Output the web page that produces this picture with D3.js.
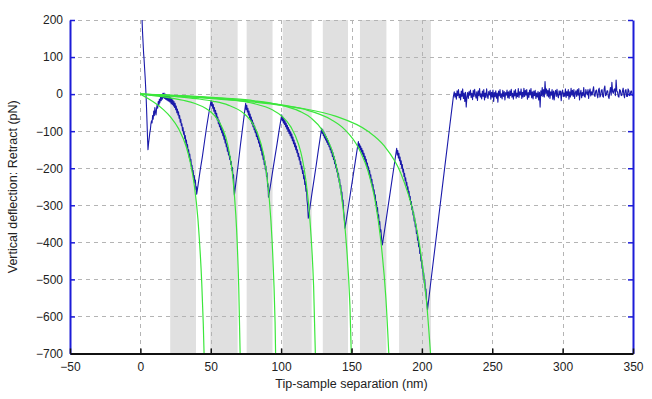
<!DOCTYPE html>
<html>
<head>
<meta charset="utf-8">
<script src="https://cdn.jsdelivr.net/npm/d3@7"></script>
<style>
  html, body { margin: 0; padding: 0; background: #fff; }
  svg { display: block; font-family: "Liberation Sans", Arial, sans-serif; }
</style>
</head>
<body>
<svg id="chart" width="652" height="399"></svg>
<script>
// ---------- data ----------
const xTicks = [-50, 0, 50, 100, 150, 200, 250, 300, 350];
const yTicks = [200, 100, 0, -100, -200, -300, -400, -500, -600, -700];
const xLabel = "Tip-sample separation (nm)";
const yLabel = "Vertical deflection: Retract (pN)";

// shaded regions [start nm, end nm]
const shadedRegions = [
  [21.2, 39.5], [49.7, 69.1], [75.5, 93.9], [101.1, 121.7],
  [129.6, 147.5], [156.0, 174.8], [183.8, 206.4]
];

// retract curve [separation nm, force pN]
const retractCurve = [
  [1.2,200],[1.5,170],[1.9,140],[2.3,110],[2.6,95],[3.0,70],[3.4,45],[3.8,15],[4.1,-10],[4.4,-40],[4.8,-85],[5.1,-120],[5.4,-150],
  [5.9,-130],[6.3,-118],[6.7,-104],[7.1,-96],[7.5,-80],[7.9,-72],[8.3,-78],[8.7,-58],[9.1,-68],[9.5,-46],[9.9,-58],[10.3,-36],[10.7,-48],[11.1,-56],[11.5,-40],[11.9,-28],[12.3,-38],[12.7,-20],[13.1,-30],[13.5,-14],[13.8,-24],
  [14.0,-20],[14.4,-6],[14.8,-18],[15.2,-2],[15.6,-14],[16.0,2],[16.4,-10],[16.8,3],[17.2,-12],[17.6,0],[17.9,-14],[18.3,-2],[18.7,-16],[19.1,-4],[19.5,-18],[19.9,-6],[20.3,-20],[20.7,-5],[21.1,-22],[21.5,-10],[21.9,-26],[22.3,-12],[22.7,-28],[23.1,-16],[23.5,-32],[23.9,-20],[24.3,-36],[24.7,-25],[25.1,-42],[25.5,-32],[25.9,-50],[26.3,-40],[26.7,-56],[27.1,-48],[27.5,-65],[27.9,-58],[28.3,-76],[28.7,-68],[29.1,-85],[29.5,-80],[29.9,-98],[30.3,-90],[30.7,-108],[31.1,-102],[31.5,-120],[31.9,-112],[32.3,-132],[32.7,-124],[33.1,-143],[33.5,-136],[33.9,-156],[34.3,-150],[34.7,-170],[35.1,-162],[35.5,-182],[35.9,-176],[36.3,-196],[36.7,-192],[37.1,-212],[37.5,-206],[37.9,-226],[38.3,-220],[38.7,-240],[39.1,-232],[39.5,-258],[39.8,-250],[40.0,-270],
  [41.0,-245],[42.5,-205],[44.0,-170],[45.5,-130],[47.0,-90],[48.5,-55],
  [50.2,-18],[50.6,-32],[51.0,-22],[51.4,-38],[51.8,-28],[52.2,-46],[52.6,-36],[53.0,-52],[53.4,-44],[53.8,-62],[54.2,-52],[54.6,-70],[55.0,-62],[55.4,-80],[55.8,-70],[56.2,-88],[56.6,-78],[57.0,-96],[57.4,-86],[57.8,-104],[58.2,-96],[58.6,-112],[59.0,-104],[59.4,-122],[59.8,-112],[60.2,-132],[60.6,-122],[61.0,-142],[61.4,-134],[61.8,-154],[62.2,-144],[62.6,-164],[63.0,-156],[63.4,-176],[63.8,-168],[64.2,-190],[64.6,-182],[65.0,-206],[65.4,-198],[65.8,-226],[66.2,-218],[66.5,-250],[66.8,-272],
  [68.0,-235],[69.5,-190],[71.0,-140],[72.5,-95],[74.0,-50],
  [74.8,-25],[75.2,-42],[75.6,-30],[76.0,-48],[76.4,-38],[76.8,-56],[77.2,-46],[77.6,-64],[78.0,-54],[78.4,-72],[78.8,-62],[79.2,-80],[79.6,-70],[80.0,-88],[80.4,-78],[80.8,-96],[81.2,-86],[81.6,-104],[82.0,-96],[82.4,-114],[82.8,-104],[83.2,-122],[83.6,-114],[84.0,-132],[84.4,-124],[84.8,-142],[85.2,-134],[85.6,-152],[86.0,-144],[86.4,-164],[86.8,-154],[87.2,-176],[87.6,-166],[88.0,-190],[88.4,-180],[88.8,-204],[89.2,-194],[89.6,-222],[90.0,-212],[90.4,-250],[90.7,-242],[91.0,-278],
  [92.5,-245],[94.0,-208],[95.5,-172],[97.0,-137],[98.5,-100],
  [100.4,-56],[100.8,-72],[101.2,-62],[101.6,-78],[102.0,-66],[102.4,-82],[102.8,-72],[103.2,-88],[103.6,-78],[104.0,-94],[104.4,-84],[104.8,-100],[105.2,-90],[105.6,-106],[106.0,-96],[106.4,-112],[106.8,-102],[107.2,-118],[107.6,-108],[108.0,-126],[108.4,-116],[108.8,-134],[109.2,-124],[109.6,-142],[110.0,-132],[110.4,-150],[110.8,-140],[111.2,-158],[111.6,-150],[112.0,-168],[112.4,-160],[112.8,-178],[113.2,-170],[113.6,-190],[114.0,-182],[114.4,-202],[114.8,-194],[115.2,-214],[115.6,-206],[116.0,-228],[116.4,-220],[116.8,-244],[117.2,-236],[117.6,-262],[118.0,-254],[118.4,-286],[118.8,-300],[119.3,-335],
  [120.5,-305],[122.0,-265],[123.5,-228],[125.0,-190],[126.5,-150],[128.0,-112],
  [128.8,-92],[129.2,-106],[129.6,-96],[130.0,-112],[130.4,-102],[130.8,-118],[131.2,-108],[131.6,-124],[132.0,-114],[132.4,-130],[132.8,-120],[133.2,-136],[133.6,-126],[134.0,-142],[134.4,-134],[134.8,-150],[135.2,-142],[135.6,-158],[136.0,-150],[136.4,-168],[136.8,-158],[137.2,-176],[137.6,-168],[138.0,-188],[138.4,-178],[138.8,-198],[139.2,-190],[139.6,-210],[140.0,-202],[140.4,-224],[140.8,-214],[141.2,-238],[141.6,-230],[142.0,-254],[142.4,-246],[142.8,-272],[143.2,-264],[143.6,-292],[144.0,-286],[144.4,-316],[144.8,-330],[145.4,-362],
  [146.5,-335],[148.0,-298],[149.5,-261],[151.0,-224],[152.5,-187],[154.0,-150],
  [154.9,-128],[155.3,-144],[155.7,-134],[156.1,-150],[156.5,-140],[156.9,-156],[157.3,-146],[157.7,-162],[158.1,-152],[158.5,-168],[158.9,-160],[159.3,-176],[159.7,-168],[160.1,-184],[160.5,-176],[160.9,-194],[161.3,-186],[161.7,-204],[162.1,-196],[162.5,-216],[162.9,-206],[163.3,-226],[163.7,-218],[164.1,-240],[164.5,-230],[164.9,-252],[165.3,-244],[165.7,-266],[166.1,-258],[166.5,-282],[166.9,-272],[167.3,-298],[167.7,-290],[168.1,-316],[168.5,-306],[168.9,-334],[169.3,-326],[169.7,-352],[170.1,-344],[170.5,-372],[170.9,-366],[171.4,-392],[171.9,-407],
  [173.0,-380],[174.5,-342],[176.0,-303],[177.5,-265],[179.0,-226],[180.5,-188],
  [182.1,-146],[182.5,-164],[182.9,-152],[183.3,-172],[183.7,-160],[184.1,-180],[184.5,-170],[184.9,-190],[185.3,-180],[185.7,-200],[186.1,-190],[186.5,-210],[186.9,-202],[187.3,-222],[187.7,-214],[188.1,-234],[188.5,-226],[188.9,-246],[189.3,-238],[189.7,-258],[190.1,-250],[190.5,-270],[190.9,-262],[191.3,-284],[191.7,-276],[192.1,-298],[192.5,-290],[192.9,-312],[193.3,-304],[193.7,-326],[194.1,-318],[194.5,-342],[194.9,-334],[195.3,-358],[195.7,-350],[196.1,-376],[196.5,-368],[196.9,-394],[197.3,-386],[197.7,-412],[198.1,-404],[198.5,-430],[198.9,-422],[199.3,-450],[199.7,-442],[200.1,-470],[200.5,-462],[200.9,-490],[201.3,-482],[201.7,-510],[202.1,-502],[202.5,-532],[202.9,-526],[203.3,-556],[203.7,-566],[204.0,-582],
  [206.0,-518],[208.0,-455],[210.0,-393],[212.0,-330],[214.0,-268],[216.0,-205],[218.0,-143],[220.0,-80],[222.4,-6],
  [223,6],[223.5,-8],[224,2],[224.5,-14],[225,9],[225.5,-4],[226,12],[226.5,-10],[227,0],[227.5,-16],[228,8],[228.5,-6],[229,14],[229.5,-12],[230,3],[230.5,-20],[231,5],[231.5,-35],[232,-8],[232.5,4],
  [233,-12],[233.5,7],[234,-3],[234.5,11],[235,-9],[235.5,2],[236,-15],[236.5,10],[237,-6],[237.5,13],[238,-2],[238.5,-11],[239,6],[239.5,-17],[240,9],[240.5,-4],[241,15],[241.5,-8],[242,1],[242.5,-13],
  [243,8],[243.5,-6],[244,12],[244.5,-16],[245,3],[245.5,-9],[246,14],[246.5,-5],[247,-12],[247.5,7],[248,-2],[248.5,10],[249,-14],[249.5,5],[250,-8],[250.5,11],[251,-20],[251.5,4],[252,-7],[252.5,9],
  [253,-11],[253.5,3],[254,-22],[254.5,8],[255,-5],[255.5,12],[256,-9],[256.5,1],[257,-13],[257.5,10],[258,-6],[258.5,7],[259,-16],[259.5,4],[260,-3],[260.5,11],[261,-10],[261.5,6],[262,-12],[262.5,9],
  [263,-4],[263.5,13],[264,-8],[264.5,2],[265,-14],[265.5,9],[266,-5],[266.5,12],[267,-11],[267.5,3],[268,-7],[268.5,15],[269,-9],[269.5,6],[270,-2],[270.5,14],[271,-12],[271.5,5],[272,-8],[272.5,16],
  [273,-6],[273.5,10],[274,-3],[274.5,12],[275,-14],[275.5,4],[276,-9],[276.5,11],[277,-2],[277.5,15],[278,-10],[278.5,6],[279,-13],[279.5,8],[280,-4],[280.5,10],[281,-12],[281.5,3],[282,-8],[282.5,7],
  [283,-16],[283.5,5],[284,-35],[284.5,9],[285,-4],[285.5,18],[286,-6],[286.5,12],[287,-8],[287.5,34],[288,2],[288.5,14],[289,-5],[289.5,10],[290,-8],[290.5,15],[291,-12],[291.5,6],[292,-3],[292.5,12],
  [293,-14],[293.5,8],[294,-16],[294.5,4],[295,10],[295.5,-6],[296,13],[296.5,-4],[297,-10],[297.5,9],[298,-2],[298.5,8],[299,-18],[299.5,5],[300,11],[300.5,-7],[301,3],[301.5,-6],[302,14],[302.5,-9],
  [303,7],[303.5,-4],[304,12],[304.5,-14],[305,6],[305.5,-8],[306,16],[306.5,-3],[307,10],[307.5,-6],[308,12],[308.5,-12],[309,4],[309.5,9],[310,-6],[310.5,12],[311,-3],[311.5,15],[312,-16],[312.5,2],
  [313,10],[313.5,-10],[314,4],[314.5,-4],[315,18],[315.5,-6],[316,-8],[316.5,12],[317,3],[317.5,-2],[318,12],[318.5,-12],[319,8],[319.5,14],[320,-5],[320.5,6],[321,-2],[321.5,10],[322,20],[322.5,-4],
  [323,-6],[323.5,8],[324,11],[324.5,-3],[325,-10],[325.5,12],[326,16],[326.5,-8],[327,-4],[327.5,10],[328,12],[328.5,-6],[329,-8],[329.5,14],[330,22],[330.5,-4],[331,-2],[331.5,9],[332,9],[332.5,-7],
  [333,-12],[333.5,6],[334,18],[334.5,-3],[335,32],[335.5,6],[336,2],[336.5,12],[337,14],[337.5,-4],[338,38],[338.5,8],[339,6],[339.5,-6],[340,-8],[340.5,12],[341,10],[341.5,-3],[342,-4],[342.5,8],
  [343,16],[343.5,-2],[344,-10],[344.5,10],[345,12],[345.5,-6],[346,-6],[346.5,14],[347,10],[347.5,-4],[348,-2],[348.5,8],[349,8],[349.5,-4],[350,0]
];

// fitted curves, points [nm, pN]
const fit1 = [[0,0],[5.45,-11.9],[10.9,-25.5],[16.35,-42],[21.8,-63.3],[27.25,-93.8],[32.7,-143.4],[35.4,-183],[38.15,-242],[40.9,-337.5],[43.6,-510],[44.7,-621],[45.8,-777]];
const fit2 = [[0,0],[7.8,-3.2],[15.5,-6.9],[23.3,-11.4],[31.1,-17.2],[38.9,-25.5],[46.6,-39],[50.5,-49.8],[54.4,-65.9],[58.3,-91.8],[62.2,-138.7],[65.3,-211.3],[66.8,-272.6],[68.4,-367],[69.9,-523],[71.5,-810]];
const fit3 = [[0,0],[10.4,-2.5],[20.8,-5.3],[31.2,-8.7],[41.6,-13.1],[52,-19.4],[62.4,-29.6],[72.8,-50],[78,-69.8],[83.2,-105.4],[87.4,-160.5],[89.4,-207.2],[91.5,-278.8],[93.6,-397.6],[95.7,-615.8],[97.8,-1087]];
const fit4 = [[0,0],[13.4,-2.1],[26.8,-4.5],[40.1,-7.3],[53.5,-11.1],[66.9,-16.4],[80.3,-25.1],[93.7,-42.3],[100.4,-59],[107,-89.1],[112.4,-135.7],[115.1,-175.1],[117.7,-235.7],[120.4,-336],[123.1,-520.5],[125.8,-918.7]];
const fit5 = [[0,0],[16.2,-2.3],[32.4,-4.9],[48.5,-8.1],[64.7,-12.2],[80.9,-18],[97.1,-27.5],[113.3,-46.5],[121.4,-64.8],[129.4,-97.9],[135.9,-149.1],[139.1,-192.5],[142.4,-259.1],[145.6,-369.4],[148.9,-572.1],[152.1,-1010]];
const fit6 = [[0,0],[19.4,-3.4],[38.8,-7.3],[58.1,-12],[77.5,-18.1],[96.9,-26.8],[116.3,-40.9],[135.7,-69.1],[145.4,-96.3],[155,-145.5],[162.8,-221.6],[166.7,-286],[170.5,-385],[174.4,-548.9],[178.3,-850]];
const fit7 = [[0,0],[23.1,-4.9],[46.2,-10.6],[69.3,-17.4],[92.4,-26.3],[115.5,-38.9],[138.6,-59.5],[161.7,-100.4],[173.3,-140],[184.8,-211.5],[194,-322],[198.7,-415.7],[203.3,-559.5],[207.9,-797.7]];
const fitCurves = [fit1, fit2, fit3, fit4, fit5, fit6, fit7];

// ---------- drawing ----------
const svg = d3.select("#chart");
const L = 70, R = 633, T = 20, B = 353.5;
const x = d3.scaleLinear().domain([-50, 350]).range([L, R]);
const y = d3.scaleLinear().domain([-700, 200]).range([B, T]);

svg.append("defs").append("clipPath").attr("id", "plotclip")
  .append("rect").attr("x", L).attr("y", T).attr("width", R - L).attr("height", B - T);

const plot = svg.append("g").attr("clip-path", "url(#plotclip)");

// shaded bands
plot.selectAll("rect.band").data(shadedRegions).join("rect")
  .attr("class", "band")
  .attr("x", d => x(d[0])).attr("width", d => x(d[1]) - x(d[0]))
  .attr("y", T).attr("height", B - T)
  .attr("fill", "#e0e0e0");

// grid
const gridColor = "#b4b4b4";
plot.selectAll("line.vgrid").data(xTicks.filter(v => v > -50 && v < 350)).join("line")
  .attr("x1", d => Math.round(x(d)) + 0.5).attr("x2", d => Math.round(x(d)) + 0.5)
  .attr("y1", T).attr("y2", B)
  .attr("stroke", gridColor).attr("stroke-width", 1).attr("stroke-dasharray", "4,4");
plot.selectAll("line.hgrid").data(yTicks.filter(v => v > -700)).join("line")
  .attr("y1", d => Math.round(y(d)) + 0.5).attr("y2", d => Math.round(y(d)) + 0.5)
  .attr("x1", L).attr("x2", R)
  .attr("stroke", gridColor).attr("stroke-width", 1).attr("stroke-dasharray", "4,4");

// retract curve
const line = d3.line().x(d => x(d[0])).y(d => y(d[1]));
plot.append("path").datum(retractCurve)
  .attr("d", line).attr("fill", "none")
  .attr("stroke", "#1a1aaa").attr("stroke-width", 1.1).attr("stroke-linejoin", "round");

// fits
const fitLine = d3.line().x(d => x(d[0])).y(d => y(d[1])).curve(d3.curveMonotoneX);
plot.selectAll("path.fit").data(fitCurves).join("path")
  .attr("class", "fit")
  .attr("d", fitLine).attr("fill", "none")
  .attr("stroke", "#3ce63c").attr("stroke-width", 1.2);

// axes
const axisBlue = "#1c1cd8";
const left = svg.append("g").attr("transform", `translate(${L},0)`)
  .call(d3.axisLeft(y).tickValues(yTicks).tickSize(-5).tickPadding(7).tickSizeOuter(0));
left.select(".domain").attr("stroke", axisBlue).attr("stroke-width", 2);
left.selectAll(".tick line").attr("stroke", axisBlue).attr("stroke-width", 1.5);
left.selectAll("text").attr("font-size", 12).attr("fill", "#222")
  .attr("font-family", "'Liberation Sans', Arial, sans-serif");

const right = svg.append("g").attr("transform", `translate(${R},0)`)
  .call(d3.axisRight(y).tickValues(yTicks).tickSize(-5).tickFormat("").tickSizeOuter(0));
right.select(".domain").attr("stroke", axisBlue).attr("stroke-width", 2);
right.selectAll(".tick line").attr("stroke", axisBlue).attr("stroke-width", 1.5);

const bottom = svg.append("g").attr("transform", `translate(0,${B})`)
  .call(d3.axisBottom(x).tickValues(xTicks).tickSize(-5).tickPadding(9).tickSizeOuter(0));
bottom.select(".domain").attr("stroke", "#111").attr("stroke-width", 2);
bottom.selectAll(".tick line").attr("stroke", "#111").attr("stroke-width", 1.5);
bottom.selectAll("text").attr("font-size", 12).attr("fill", "#222")
  .attr("font-family", "'Liberation Sans', Arial, sans-serif");

// titles
svg.append("text").attr("x", (L + R) / 2).attr("y", 388)
  .attr("text-anchor", "middle").attr("font-size", 12.5).attr("fill", "#222")
  .text(xLabel);
svg.append("text")
  .attr("transform", `translate(17,${(T + B) / 2}) rotate(-90)`)
  .attr("text-anchor", "middle").attr("font-size", 12.5).attr("fill", "#222")
  .text(yLabel);
</script>
</body>
</html>
